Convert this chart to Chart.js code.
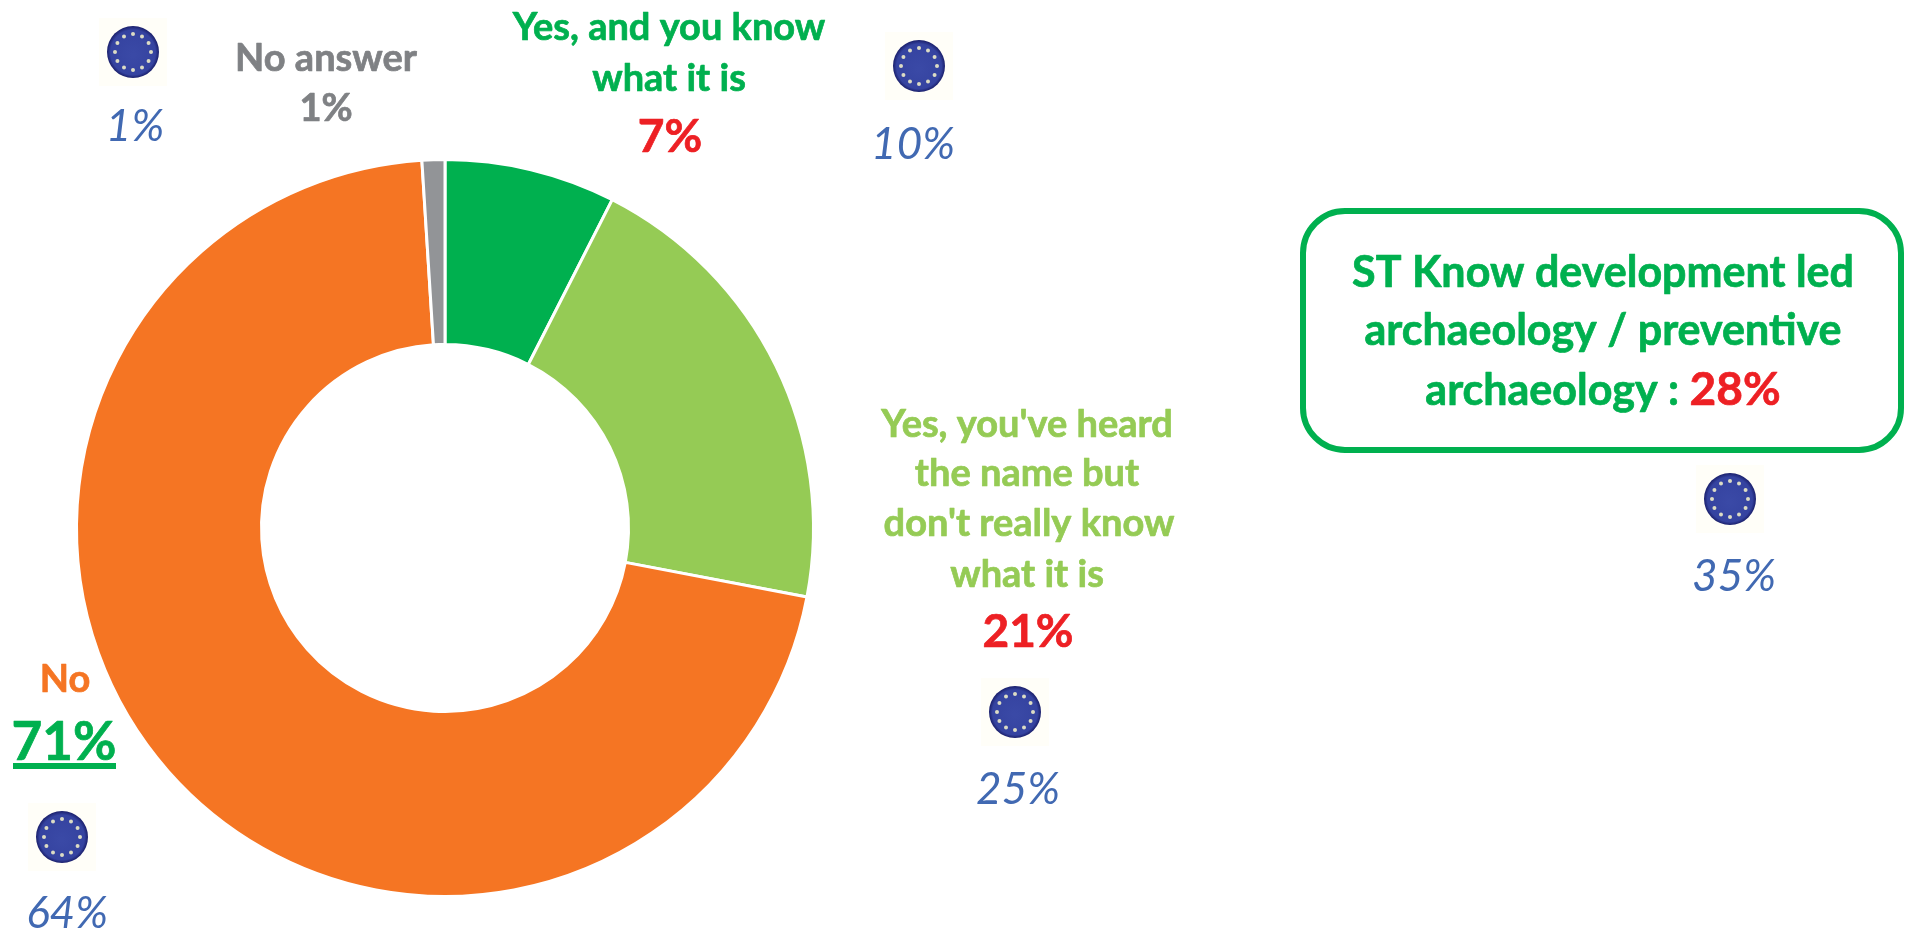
<!DOCTYPE html>
<html>
<head>
<meta charset="utf-8">
<title>Development led archaeology</title>
<script src="https://cdn.jsdelivr.net/npm/chart.js@4"></script>
<style>
  html, body { margin: 0; padding: 0; background: #fff; overflow: hidden; }
  canvas { display: block; }
</style>
</head>
<body>
<canvas id="chart" width="1905" height="932"></canvas>
<script>
// values
const categories = ['Yes, and you know what it is', "Yes, you've heard the name but don't really know what it is", 'No', 'No answer'];
const sliceValues = [7.5, 20.5, 71, 1];
const sliceColors = ['#00b04f', '#95cb55', '#f57523', '#929497'];

const euValues = ['1%', '10%', '25%', '64%', '35%'];
const boxLines = ['ST Know development led', 'archaeology / preventive', 'archaeology : '];
const boxValue = '28%';

const GREEN = '#00b04f';
const LIGHT = '#95cb55';
const ORANGE = '#f57523';
const GREY = '#7f8184';
const RED = '#ed2024';
const BLUE = '#4169b2';
const FONT = 'Lato, sans-serif';

// text, centre x, baseline y, size, colour
const labels = [
    ['No answer', 326, 71, 38, GREY],
    ['1%', 326, 121, 38, GREY],
    ['Yes, and you know', 669, 40, 38, GREEN],
    ['what it is', 669, 91, 38, GREEN],
    ['7%', 670, 152, 46, RED],
    ["Yes, you've heard", 1027, 437, 38, LIGHT],
    ['the name but', 1027, 486, 38, LIGHT],
    ["don't really know", 1029, 536, 38, LIGHT],
    ['what it is', 1027, 587, 38, LIGHT],
    ['21%', 1028, 647, 46, RED],
    ['No', 65, 692, 38, ORANGE],
    ['71%', 64, 760, 53, GREEN],
];

// badge centre x, centre y, then the value below it
const badges = [
    [133, 52, 135, 141],
    [919, 66, 913, 159],
    [1015, 712, 1018, 804],
    [62, 837, 67, 928],
    [1730, 499, 1734, 591],
];

function drawBadge(ctx, x, y) {
    const r = 26;
    ctx.save();
    // the faint paper square round the pasted icon
    ctx.fillStyle = '#fffef8';
    ctx.fillRect(x - 34, y - 34, 68, 68);
    const grad = ctx.createRadialGradient(x, y + 3, 2, x, y, r);
    grad.addColorStop(0, '#3a49a6');
    grad.addColorStop(0.85, '#3543a0');
    grad.addColorStop(1, '#1a1f6b');
    ctx.fillStyle = grad;
    ctx.beginPath();
    ctx.arc(x, y, r, 0, Math.PI * 2);
    ctx.fill();
    ctx.fillStyle = '#dcdcc4';
    for (let i = 0; i < 12; i++) {
        const a = i * Math.PI / 6;
        ctx.beginPath();
        ctx.arc(x + Math.cos(a) * 18, y + Math.sin(a) * 18, 2, 0, Math.PI * 2);
        ctx.fill();
    }
    ctx.restore();
}

const annotations = {
    id: 'annotations',
    afterDraw(chart) {
        const ctx = chart.ctx;
        ctx.save();
        ctx.textAlign = 'center';
        ctx.textBaseline = 'alphabetic';
        ctx.lineJoin = 'round';
        ctx.lineWidth = 0.7;

        // thin stroke makes Lato bold as heavy as the original
        const heavy = (text, x, y, color) => {
            ctx.fillStyle = color;
            ctx.strokeStyle = color;
            ctx.fillText(text, x, y);
            ctx.strokeText(text, x, y);
        };

        labels.forEach(([text, x, y, size, color]) => {
            ctx.font = `bold ${size}px ${FONT}`;
            heavy(text, x, y, color);
        });

        // underline of the 71%
        ctx.fillStyle = GREEN;
        ctx.fillRect(13, 763, 103, 6);

        // EU comparison
        badges.forEach(([bx, by, tx, ty], i) => {
            drawBadge(ctx, bx, by);
            ctx.font = `italic 44px ${FONT}`;
            ctx.fillStyle = BLUE;
            ctx.fillText(euValues[i], tx, ty);
        });

        // rounded box
        ctx.strokeStyle = GREEN;
        ctx.lineWidth = 6;
        ctx.beginPath();
        ctx.roundRect(1303, 211, 598, 239, 42);
        ctx.stroke();
        ctx.lineWidth = 0.7;

        ctx.font = `bold 43px ${FONT}`;
        heavy(boxLines[0], 1603, 287, GREEN);
        heavy(boxLines[1], 1603, 345, GREEN);
        const w1 = ctx.measureText(boxLines[2]).width;
        ctx.font = `bold 46px ${FONT}`;
        const w2 = ctx.measureText(boxValue).width;
        const left = 1603 - (w1 + w2) / 2;
        ctx.textAlign = 'left';
        ctx.font = `bold 43px ${FONT}`;
        heavy(boxLines[2], left, 405, GREEN);
        ctx.font = `bold 46px ${FONT}`;
        heavy(boxValue, left + w1, 405, RED);
        ctx.restore();
    }
};

const ctx = document.getElementById('chart').getContext('2d');
const chart = new Chart(ctx, {
    type: 'doughnut',
    data: {
        labels: categories,
        datasets: [{
            data: sliceValues,
            backgroundColor: sliceColors,
            borderColor: '#ffffff',
            borderWidth: 3,
        }],
    },
    options: {
        responsive: false,
        animation: false,
        cutout: '49.8%',
        layout: {
            padding: { left: 75, top: 157, right: 1090, bottom: 33 },
        },
        plugins: {
            legend: { display: false },
            tooltip: { enabled: false },
        },
    },
    plugins: [annotations],
});
</script>
</body>
</html>
